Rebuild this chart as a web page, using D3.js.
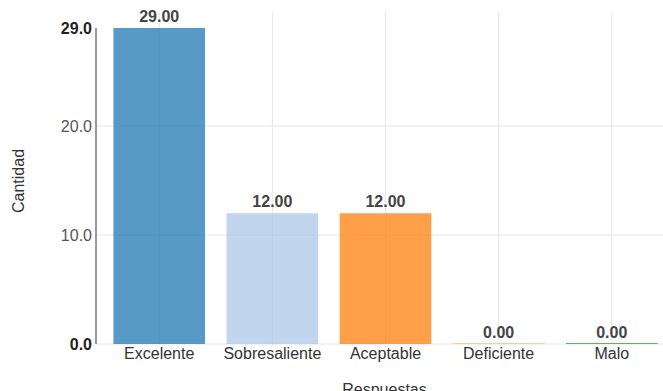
<!DOCTYPE html>
<html><head><meta charset="utf-8">
<script src="https://cdn.jsdelivr.net/npm/d3@7/dist/d3.min.js"></script>
<style>
body{margin:0;background:#fff;}
svg{font-family:"Liberation Sans",Arial,sans-serif;}
</style></head>
<body><svg id="c" width="663" height="391"></svg>
<script>
const categories = ["Excelente","Sobresaliente","Aceptable","Deficiente","Malo"];
const values = [29, 12, 12, 0, 0];
const colors = ["#1f77b4","#aec7e8","#ff7f0e","#ffbb78","#2ca02c"];
const yTicks = [0, 10, 20, 29];
const xTitle = "Respuestas", yTitle = "Cantidad";

(function(){
const svg = d3.select("#c");
const pLeft = 96, pRight = 673, pBottom = 344;
const FF = "Liberation Sans, Arial, sans-serif";

const x = d3.scaleBand().domain(categories).range([pLeft + 1, pRight + 1]).paddingInner(0.1).paddingOuter(0.1);
const y = d3.scaleLinear().domain([0, 29]).range([pBottom, 28]);

// vertical gridlines at band centers
svg.append("g").selectAll("line").data(categories).join("line")
  .attr("x1", d => x(d) + x.bandwidth()/2).attr("x2", d => x(d) + x.bandwidth()/2)
  .attr("y1", 12).attr("y2", pBottom)
  .attr("stroke", "#e6e6e6").attr("stroke-width", 1);
// horizontal gridlines
svg.append("g").selectAll("line").data([0,10,20]).join("line")
  .attr("x1", pLeft).attr("x2", 663)
  .attr("y1", d => y(d)).attr("y2", d => y(d))
  .attr("stroke", "#e6e6e6").attr("stroke-width", 1);

// bars
const bw = x.bandwidth()*0.9;
svg.append("g").selectAll("rect").data(values).join("rect")
  .attr("x", (d,i) => x(categories[i]) + x.bandwidth()*0.05)
  .attr("width", bw)
  .attr("y", d => Math.min(y(d), pBottom - 1))
  .attr("height", d => Math.max(pBottom - y(d), 1))
  .attr("fill", (d,i) => colors[i]).attr("fill-opacity", 0.75);

// value labels
svg.append("g").selectAll("text").data(values).join("text")
  .attr("x", (d,i) => x(categories[i]) + x.bandwidth()/2)
  .attr("y", d => y(d) - 6)
  .attr("text-anchor", "middle").attr("font-family", FF)
  .attr("font-size", 16).attr("font-weight", "bold").attr("fill", "#444")
  .text(d => d3.format(".2f")(d));

// y axis
const yAxis = svg.append("g").attr("transform", `translate(${pLeft},0)`)
  .call(d3.axisLeft(y).tickValues(yTicks).tickFormat(d3.format(".1f")).tickSize(0).tickPadding(4));
yAxis.select(".domain").attr("stroke", "#333").attr("d", `M0,${y(29)}V${pBottom}`);
yAxis.selectAll("text").attr("font-size", 16)
  .attr("font-family", FF)
  .attr("font-weight", d => (d === 0 || d === 29) ? "bold" : "normal")
  .attr("fill", d => (d === 0 || d === 29) ? "#222" : "#555");

// x axis
const xAxis = svg.append("g").attr("transform", `translate(0,${pBottom})`)
  .call(d3.axisBottom(x).tickSize(0).tickPadding(4));
xAxis.select(".domain").remove();
xAxis.selectAll("text").attr("font-size", 16).attr("fill", "#333")
  .attr("font-family", FF);

// titles
svg.append("text").attr("x", (pLeft + pRight)/2).attr("y", 395)
  .attr("text-anchor", "middle").attr("font-size", 16).attr("font-family", FF).attr("fill", "#333").text(xTitle);
svg.append("text").attr("transform", "translate(24,181) rotate(-90)")
  .attr("text-anchor", "middle").attr("font-size", 16).attr("font-family", FF).attr("fill", "#333").text(yTitle);
})();
</script></body></html>
